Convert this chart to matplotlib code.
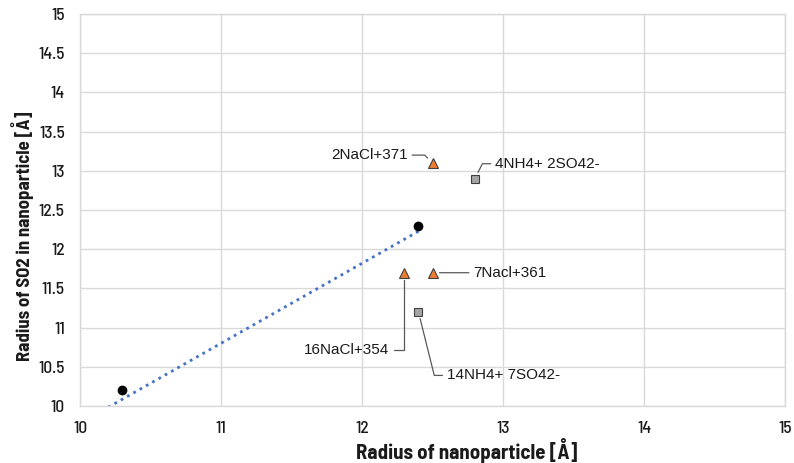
import numpy as np
import matplotlib.pyplot as plt

# measured radii [Å]
ref_x = [10.3, 12.4]
ref_y = [10.2, 12.3]

nacl_x = [12.5, 12.3, 12.5]
nacl_y = [13.1, 11.7, 11.7]
nacl_labels = ["2NaCl+371", "16NaCl+354", "7Nacl+361"]

nh4_x = [12.8, 12.4]
nh4_y = [12.9, 11.2]
nh4_labels = ["4NH4+ 2SO42-", "14NH4+ 7SO42-"]

# linear trendline of the reference series
trend_slope = 1.02
trend_intercept = -0.42
trend_range = [10.2, 12.4]

AXIS_FONT = ["Barlow Semi Condensed", "DejaVu Sans"]
TEXT_FONT = ["Liberation Sans", "DejaVu Sans"]

fig = plt.figure(figsize=(7.94, 4.63), dpi=100)
ax = fig.add_axes([0.1008, 0.1231, 0.8879, 0.8467])

tx = np.array(trend_range)
ax.plot(tx, trend_slope * tx + trend_intercept, color="#4472C4", lw=2,
        linestyle=(0, (1, 1.6)), zorder=2)

ax.plot(ref_x, ref_y, "o", color="black", markersize=6, zorder=3)
ax.plot(nacl_x, nacl_y, "^", color="#ED7D31", markeredgecolor="#404040",
        markeredgewidth=0.8, markersize=7, zorder=3)
ax.plot(nh4_x, nh4_y, "s", color="#A5A5A5", markeredgecolor="#404040",
        markeredgewidth=0.8, markersize=6, zorder=3)

lead = dict(arrowstyle="-", color="#595959", lw=0.9, shrinkA=1, shrinkB=5)

def label(text, xy, xytext, ha, conn):
    ax.annotate(text, xy=xy, xytext=xytext, ha=ha, va="center",
                fontsize=11, family=TEXT_FONT, color="#1a1a1a",
                arrowprops=dict(lead, connectionstyle=conn,
                                relpos=(1, 0.5) if ha == "right" else (0, 0.5)))

label(nacl_labels[0], (nacl_x[0], nacl_y[0]), (12.326, 13.20), "right",
      "angle,angleA=0,angleB=135,rad=0")
label(nacl_labels[1], (nacl_x[1], nacl_y[1]), (12.194, 10.72), "right",
      "angle,angleA=0,angleB=90,rad=0")
label(nacl_labels[2], (nacl_x[2], nacl_y[2]), (12.787, 11.70), "left",
      "arc3,rad=0")
label(nh4_labels[0], (nh4_x[0], nh4_y[0]), (12.943, 13.09), "left",
      "angle,angleA=0,angleB=63,rad=0")
label(nh4_labels[1], (nh4_x[1], nh4_y[1]), (12.60, 10.39), "left",
      "angle,angleA=0,angleB=104,rad=0")

ax.set_xlim(10, 15)
ax.set_ylim(10, 15)
ax.set_xticks(np.arange(10, 15.01, 1))
ax.set_yticks(np.arange(10, 15.01, 0.5))
ax.set_xticklabels([f"{v:g}" for v in np.arange(10, 15.01, 1)])
ax.set_yticklabels([f"{v:g}" for v in np.arange(10, 15.01, 0.5)])
ax.tick_params(length=0, labelsize=12.5, colors="#1a1a1a")
ax.tick_params(axis="x", pad=11)
ax.tick_params(axis="y", pad=11)
for t in ax.get_xticklabels() + ax.get_yticklabels():
    t.set_family(AXIS_FONT)
    t.set_fontweight("medium")

ax.grid(True, color="#d9d9d9", lw=1)
ax.set_axisbelow(True)
for s in ax.spines.values():
    s.set_color("#d9d9d9")
    s.set_linewidth(1)

ax.set_xlabel("Radius of nanoparticle [Å]", fontsize=15, fontweight="bold",
              family=AXIS_FONT, color="#1a1a1a", va="center")
ax.set_ylabel("Radius of SO2 in nanoparticle [Å]", fontsize=13.5, fontweight="bold",
              family=AXIS_FONT, color="#1a1a1a", va="center")
ax.xaxis.set_label_coords(0.549, -0.1146)
ax.yaxis.set_label_coords(-0.0823, 0.432)

fig.savefig("out.png", dpi=100)
